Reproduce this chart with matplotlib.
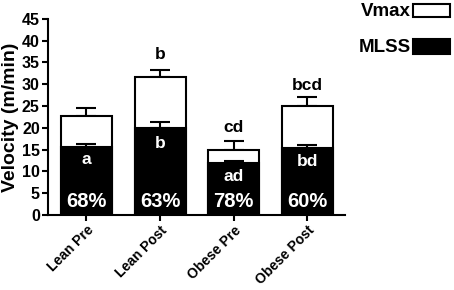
import matplotlib.pyplot as plt
from matplotlib.patches import Rectangle

plt.rcParams['font.family'] = ['Liberation Sans', 'DejaVu Sans']
plt.rcParams['font.weight'] = 'bold'

groups = ['Lean Pre', 'Lean Post', 'Obese Pre', 'Obese Post']
vmax = [22.7, 31.7, 14.9, 25.0]
vmax_err = [1.8, 1.6, 2.1, 2.0]
mlss = [15.6, 20.0, 11.8, 15.3]
mlss_err = [0.7, 1.3, 0.6, 0.8]
top_letters = ['', 'b', 'cd', 'bcd']
top_pos = [0, 36.9, 20.0, 29.8]
in_letters = ['a', 'b', 'ad', 'bd']
in_pos = [12.6, 16.5, 8.9, 12.2]
percents = ['68%', '63%', '78%', '60%']

fig = plt.figure(figsize=(4.54, 2.9), dpi=100)
ax = fig.add_axes([0.106, 0.259, 0.654, 0.676])

x = list(range(len(groups)))
w = 0.69
ax.bar(x, vmax, width=w, color='white', edgecolor='black', linewidth=1.5, zorder=2)
ax.errorbar(x, vmax, yerr=[[0] * 4, vmax_err], fmt='none', ecolor='black',
            elinewidth=1.5, capsize=7, capthick=1.5, zorder=1)
ax.bar(x, mlss, width=w, color='black', edgecolor='black', linewidth=1.5, zorder=3)
ax.errorbar(x, mlss, yerr=[[0] * 4, mlss_err], fmt='none', ecolor='black',
            elinewidth=1.5, capsize=7, capthick=1.5, zorder=4)

for i in x:
    if top_letters[i]:
        ax.text(i, top_pos[i], top_letters[i], ha='center', va='center', fontsize=12.5)
    ax.text(i, in_pos[i], in_letters[i], ha='center', va='center', fontsize=12.5,
            color='white', zorder=5)
    ax.text(i, 3.0, percents[i], ha='center', va='center', fontsize=14.5,
            color='white', zorder=5)

ax.set_xlim(-0.52, 3.51)
ax.set_ylim(0, 45)
ax.set_yticks(range(0, 46, 5))
ax.set_xticks(x)
ax.set_xticklabels(groups, rotation=45, ha='right', rotation_mode='anchor', fontsize=10)
ax.tick_params(axis='y', labelsize=11.5, width=1.5, length=4, pad=2)
ax.tick_params(axis='x', width=1.5, length=4, pad=2)
ax.set_ylabel('Velocity (m/min)', fontsize=14, fontweight='bold', labelpad=2)
for s in ['top', 'right']:
    ax.spines[s].set_visible(False)
for s in ['left', 'bottom']:
    ax.spines[s].set_linewidth(1.5)

# legend drawn by hand, boxes to the right of the text
W, H = 454, 290
fig.patches.append(Rectangle((413 / W, 1 - 17 / H), 37 / W, 13 / H, transform=fig.transFigure,
                             facecolor='white', edgecolor='black', linewidth=1.5))
fig.patches.append(Rectangle((413 / W, 1 - 54 / H), 37 / W, 15 / H, transform=fig.transFigure,
                             facecolor='black', edgecolor='black', linewidth=1.5))
fig.text(411 / W, 1 - 11 / H, 'Vmax', ha='right', va='center', fontsize=13.5)
fig.text(411 / W, 1 - 47 / H, 'MLSS', ha='right', va='center', fontsize=13.5)

fig.savefig('out.png', dpi=100)
